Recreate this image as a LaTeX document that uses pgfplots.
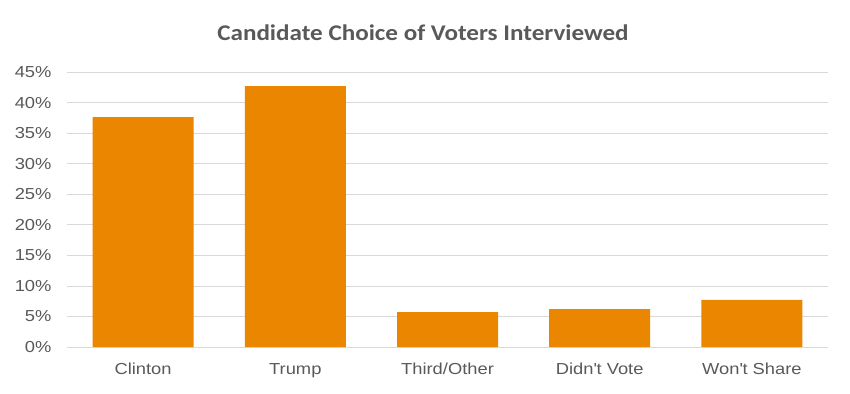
\documentclass[border=0pt]{standalone}
\usepackage{fontspec}
\setmainfont[FakeStretch=1.15]{Liberation Sans}
\newfontfamily\titlefont[FakeStretch=1.12]{Carlito}
\usepackage{pgfplots}
\pgfplotsset{compat=1.18}
\definecolor{barorange}{HTML}{EA8600}
\definecolor{gridgray}{HTML}{D9D9D9}
\definecolor{textgray}{HTML}{595959}
\begin{document}
\begin{tikzpicture}[x=1bp,y=1bp]
\path (0,0) rectangle (850,393);
\node[font=\titlefont\fontsize{22.5}{26}\selectfont\bfseries, text=textgray] at (423,33.5) [yshift=326.5bp] {Candidate Choice of Voters Interviewed};
\begin{axis}[
  at={(67bp,46bp)}, anchor=south west,
  scale only axis, width=761bp, height=275bp,
  xmin=-0.5, xmax=4.5, ymin=0, ymax=45,
  xtick=data, xticklabels={Clinton,Trump,Third/Other,Didn\textquotesingle t Vote,Won\textquotesingle t Share},
  ytick={0,5,...,45},
  yticklabel={\pgfmathprintnumber{\tick}\%},
  /pgf/number format/assume math mode=true,
  ymajorgrids, grid style={gridgray, line width=0.75bp},
  axis x line*=bottom, axis y line*=left,
  y axis line style={draw=none},
  x axis line style={gridgray, line width=0.75bp, -},
  major tick length=0pt,
  ticklabel style={font=\fontsize{16}{19}\selectfont, text=textgray},
  xticklabel style={yshift=-12bp, text height=12bp, text depth=3.5bp},
  yticklabel style={xshift=-12bp},
  ybar, bar width=101bp,
]
\addplot[fill=barorange, draw=none] coordinates {(0,37.6) (1,42.7) (2,5.7) (3,6.2) (4,7.7)};
\end{axis}
\end{tikzpicture}
\end{document}
